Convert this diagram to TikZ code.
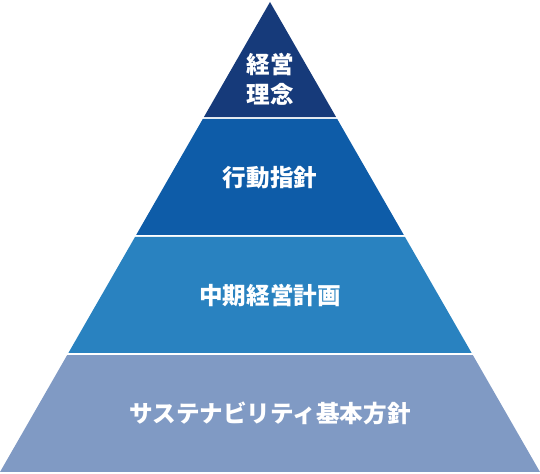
\documentclass[tikz,border=0pt]{standalone}
\usepackage{fontspec}
\setmainfont{Noto Sans CJK JP}
\usetikzlibrary{calc, positioning}

\definecolor{philosophy}{HTML}{163A7A}
\definecolor{conduct}{HTML}{0E5CA8}
\definecolor{midplan}{HTML}{2982C0}
\definecolor{sustain}{HTML}{809AC4}

\begin{document}
\begin{tikzpicture}[
        x=0.5pt, y=-0.5pt,
        layer/.style={font=\fontsize{11.8pt}{15pt}\selectfont\bfseries, text=white, align=center, inner sep=0pt}
    ]
    \useasboundingbox (0,0) rectangle (540,474);
    \coordinate (apex) at (270,2);
    \coordinate (bl) at (0,472);
    \coordinate (br) at (540,472);

    % Bands of the pyramid, top to bottom
    \foreach \t/\b/\c in {0/0.2447/philosophy, 0.2489/0.4957/conduct, 0.5/0.7468/midplan, 0.7511/1/sustain}
        \fill[\c] ($(apex)!\t!(bl)$) -- ($(apex)!\b!(bl)$) -- ($(apex)!\b!(br)$) -- ($(apex)!\t!(br)$) -- cycle;

    \node[layer] (l1) at (270,79) {経営\\理念};
    \node[layer] (l2) at (270,178) {行動指針};
    \node[layer] (l3) at (270,296) {中期経営計画};
    \node[layer] (l4) at (270,413) {サステナビリティ基本方針};
\end{tikzpicture}
\end{document}
